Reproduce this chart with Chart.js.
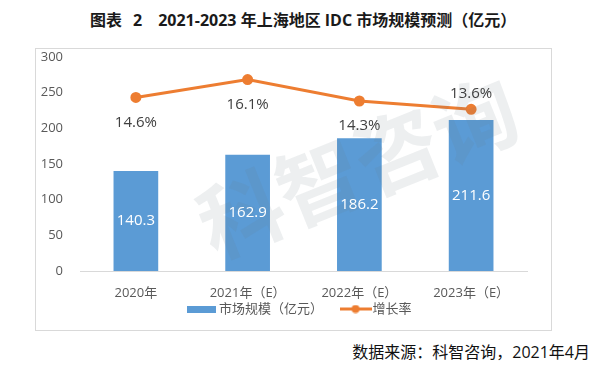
<!DOCTYPE html>
<html>
<head>
<meta charset="utf-8">
<script src="https://cdn.jsdelivr.net/npm/chart.js@4.4.1/dist/chart.umd.min.js"></script>
<style>
  body { margin: 0; width: 600px; height: 375px; background: #fff; position: relative; overflow: hidden;
         font-family: 'Open Sans', 'Noto Sans CJK SC', sans-serif; }
  #title { position: absolute; left: 90px; top: 9px; white-space: nowrap;
           font-size: 16px; font-weight: bold; line-height: 22px; color: #1a1a1a; }
  #box { position: absolute; left: 35px; top: 48px; width: 517px; height: 283px;
         box-sizing: border-box; border: 1px solid #d9d9d9; }
  #chart { position: absolute; left: 0; top: 0; }
  #source { position: absolute; right: 10px; top: 341px; font-size: 16px; line-height: 22px; color: #111; }
</style>
</head>
<body>
<div id="title"><span>图表</span><span style="margin-left:11px">2</span><span style="margin-left:16px">2021-2023 年上海地区 IDC 市场规模预测（亿元）</span></div>
<div id="box"><canvas id="chart" width="515" height="281"></canvas></div>
<div id="source">数据来源：科智咨询，2021年4月</div>
<script>
const categories = ['2020年', '2021年（E）', '2022年（E）', '2023年（E）'];
const marketSize = [140.3, 162.9, 186.2, 211.6];
const growthRate = [14.6, 16.1, 14.3, 13.6];
const yTickValues = [0, 50, 100, 150, 200, 250, 300];
const seriesNames = ['市场规模（亿元）', '增长率'];
const rateLabelSide = ['below', 'below', 'below', 'above'];
const watermarkText = '科智咨询';

const barColor = '#5B9BD5';
const lineColor = '#ED7D31';
const fontFamily = "'Open Sans', 'Noto Sans CJK SC', sans-serif";

// little canvases used as legend swatches
function makeSwatch(w, h, draw) {
  const c = document.createElement('canvas');
  c.width = w;
  c.height = h;
  draw(c.getContext('2d'));
  return c;
}
const barSwatch = makeSwatch(29, 7, g => {
  g.fillStyle = barColor;
  g.fillRect(0, 0, 29, 7);
});
const lineSwatch = makeSwatch(32, 9, g => {
  g.strokeStyle = lineColor;
  g.lineWidth = 3;
  g.beginPath();
  g.moveTo(0, 4.5);
  g.lineTo(32, 4.5);
  g.stroke();
  g.fillStyle = lineColor;
  g.beginPath();
  g.arc(16, 4.5, 4, 0, Math.PI * 2);
  g.fill();
});

const valueLabels = {
  id: 'valueLabels',
  afterDatasetsDraw(chart) {
    const ctx = chart.ctx;
    ctx.save();
    // faint watermark across the plot
    ctx.translate(322, 118);
    ctx.rotate(-22 * Math.PI / 180);
    ctx.textAlign = 'center';
    ctx.textBaseline = 'middle';
    ctx.font = 'bold 84px "Noto Sans CJK SC", sans-serif';
    ctx.fillStyle = 'rgba(110, 120, 130, 0.12)';
    ctx.fillText(watermarkText, 0, 0);
    ctx.restore();

    ctx.save();
    ctx.textAlign = 'center';
    ctx.textBaseline = 'middle';
    ctx.font = '15px ' + fontFamily;
    chart.getDatasetMeta(0).data.forEach((bar, i) => {
      ctx.fillStyle = '#ffffff';
      ctx.fillText(marketSize[i].toFixed(1), bar.x, (bar.y + bar.base) / 2);
    });
    chart.getDatasetMeta(1).data.forEach((pt, i) => {
      ctx.fillStyle = '#404040';
      const dy = rateLabelSide[i] === 'above' ? -16 : 25;
      ctx.fillText(growthRate[i].toFixed(1) + '%', pt.x, pt.y + dy);
    });
    ctx.restore();
  }
};

// pull the legend up under the category labels and a bit to the right
const legendNudge = {
  id: 'legendNudge',
  afterLayout(chart) {
    const lg = chart.legend;
    const h = lg.height;
    lg.top = 231.5;
    lg.bottom = lg.top + h;
    lg.left += 20;
    lg.right += 20;
  }
};

Chart.defaults.font.family = fontFamily;

new Chart(document.getElementById('chart').getContext('2d'), {
  type: 'bar',
  data: {
    labels: categories,
    datasets: [
      {
        type: 'bar',
        label: seriesNames[0],
        data: marketSize,
        backgroundColor: barColor,
        categoryPercentage: 1,
        barPercentage: 0.4,
        yAxisID: 'y',
        order: 1,
      },
      {
        type: 'line',
        label: seriesNames[1],
        data: growthRate,
        borderColor: lineColor,
        backgroundColor: lineColor,
        borderWidth: 3,
        pointRadius: 4,
        pointHoverRadius: 4,
        yAxisID: 'y1',
        order: 0,
      },
    ],
  },
  options: {
    responsive: false,
    animation: false,
    layout: { padding: { top: 8, right: 24, left: 0, bottom: -16 } },
    plugins: {
      tooltip: { enabled: false },
      legend: {
        position: 'bottom',
        labels: {
          usePointStyle: true,
          pointStyleWidth: 21,
          padding: 22,
          color: '#595959',
          font: { size: 13 },
          generateLabels: () => [
            { text: seriesNames[0], pointStyle: barSwatch, datasetIndex: 0, lineWidth: 0,
              fillStyle: barColor, strokeStyle: barColor, fontColor: '#595959' },
            { text: seriesNames[1], pointStyle: lineSwatch, datasetIndex: 1, lineWidth: 0,
              fillStyle: lineColor, strokeStyle: lineColor, fontColor: '#595959' },
          ],
        },
      },
    },
    scales: {
      x: {
        grid: { display: false, drawTicks: false },
        border: { display: true, color: '#d9d9d9', width: 1 },
        ticks: { padding: 14, color: '#595959', font: { size: 13 } },
        afterFit(s) { s.height = 30; },
      },
      y: {
        position: 'left',
        min: 0,
        max: 300,
        grid: { display: false, drawTicks: false },
        border: { display: false },
        ticks: { padding: 17, color: '#595959', font: { size: 13 } },
        afterBuildTicks(s) { s.ticks = yTickValues.map(v => ({ value: v })); },
        afterFit(s) {
          s.width = 44;
          s.paddingTop = 8;
          s.paddingBottom = 8;
        },
      },
      y1: {
        display: false,
        min: 0,
        max: 18,
      },
    },
  },
  plugins: [valueLabels, legendNudge],
});
</script>
</body>
</html>
